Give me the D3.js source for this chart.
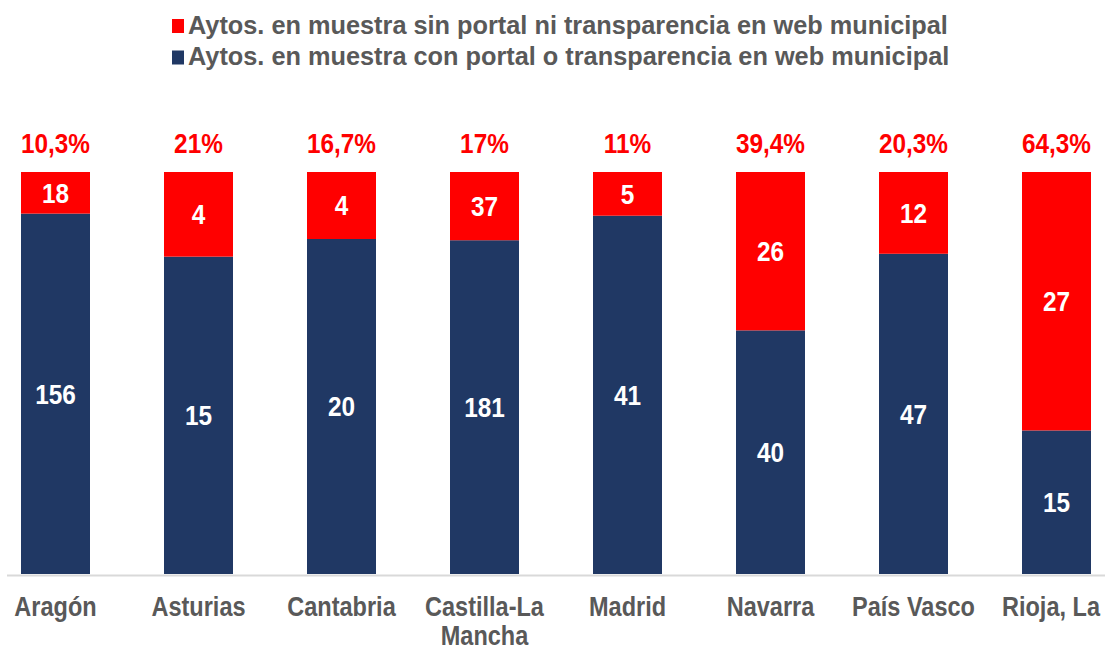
<!DOCTYPE html>
<html><head><meta charset="utf-8">
<script src="https://cdn.jsdelivr.net/npm/d3@7"></script>
<style>body{margin:0;background:#fff}svg{display:block}text{font-family:"Liberation Sans",Arial,sans-serif;font-weight:bold}</style>
</head><body><svg id="c" width="1105" height="652"></svg>
<script>
const categories = ["Aragón","Asturias","Cantabria","Castilla-La Mancha","Madrid","Navarra","País Vasco","Rioja, La"];
const conPortal = [156,15,20,181,41,40,47,15];
const sinPortal = [18,4,4,37,5,26,12,27];
const pctLabels = ["10,3%","21%","16,7%","17%","11%","39,4%","20,3%","64,3%"];
const seriesNames = ["Aytos. en muestra sin portal ni transparencia en web municipal","Aytos. en muestra con portal o transparencia en web municipal"];
const RED="#ff0000", NAVY="#203864", GREY="#595959";

const svg = d3.select("#c");
function condense(sel,k){sel.each(function(){const w=this.getComputedTextLength();d3.select(this).attr("textLength",w*k).attr("lengthAdjust","spacingAndGlyphs");});}

const x = d3.scaleBand().domain(categories).range([-16,1128]).paddingInner(0.5175).paddingOuter(0.5175/2);
const y = d3.scaleLinear().domain([0,1]).range([574,172]);

const data = categories.map((c,i)=>({cat:c,con:conPortal[i],sin:sinPortal[i],tot:conPortal[i]+sinPortal[i]}));

// bars
const g = svg.append("g");
data.forEach((d,i)=>{
  const fCon = d.con/d.tot;
  g.append("rect").attr("x",x(d.cat)).attr("width",x.bandwidth()).attr("y",y(fCon)).attr("height",y(0)-y(fCon)).attr("fill",NAVY);
  g.append("rect").attr("x",x(d.cat)).attr("width",x.bandwidth()).attr("y",y(1)).attr("height",y(fCon)-y(1)).attr("fill",RED);
  const cx = x(d.cat)+x.bandwidth()/2;
  g.append("text").attr("x",cx).attr("y",(y(fCon)+y(0))/2).attr("dy","0.35em").attr("text-anchor","middle").attr("fill","#fff").attr("font-size",28).text(d.con).call(condense,0.87);
  g.append("text").attr("x",cx).attr("y",(y(fCon)+y(1))/2).attr("dy","0.35em").attr("text-anchor","middle").attr("fill","#fff").attr("font-size",28).text(d.sin).call(condense,0.87);
  g.append("text").attr("x",cx).attr("y",143).attr("dy","0.35em").attr("text-anchor","middle").attr("fill",RED).attr("font-size",28).text(pctLabels[i]).call(condense,0.87);
});

// axis line
svg.append("line").attr("x1",7).attr("x2",1105).attr("y1",575.5).attr("y2",575.5).attr("stroke","#d9d9d9").attr("stroke-width",2);

// category labels (condensed via horizontal scale)
const K = 0.84;
data.forEach(d=>{
  let cx = x(d.cat)+x.bandwidth()/2;
  const parts = d.cat==="Castilla-La Mancha" ? ["Castilla-La","Mancha"] : [d.cat];
  parts.forEach((p,j)=>{
    const gg = svg.append("g");
    const t = gg.append("text").attr("x",0).attr("y",0).attr("dy","0.35em").attr("text-anchor","middle").attr("fill",GREY).attr("font-size",28).text(p);
    const w = t.node().getComputedTextLength()*K;
    if (cx + w/2 > 1100) cx = 1100 - w/2;
    gg.attr("transform",`translate(${cx},${606.5+j*29}) scale(${K},1)`);
  });
});

// legend
const legColors=[RED,NAVY];
seriesNames.forEach((s,i)=>{
  const ly = 24.5+i*31.5;
  svg.append("rect").attr("x",172).attr("y",ly-5.5).attr("width",12).attr("height",14).attr("fill",legColors[i]);
  svg.append("text").attr("x",188).attr("y",ly).attr("dy","0.35em").attr("fill",GREY).attr("font-size",26.5).text(s).call(condense,0.955);
});
</script></body></html>
